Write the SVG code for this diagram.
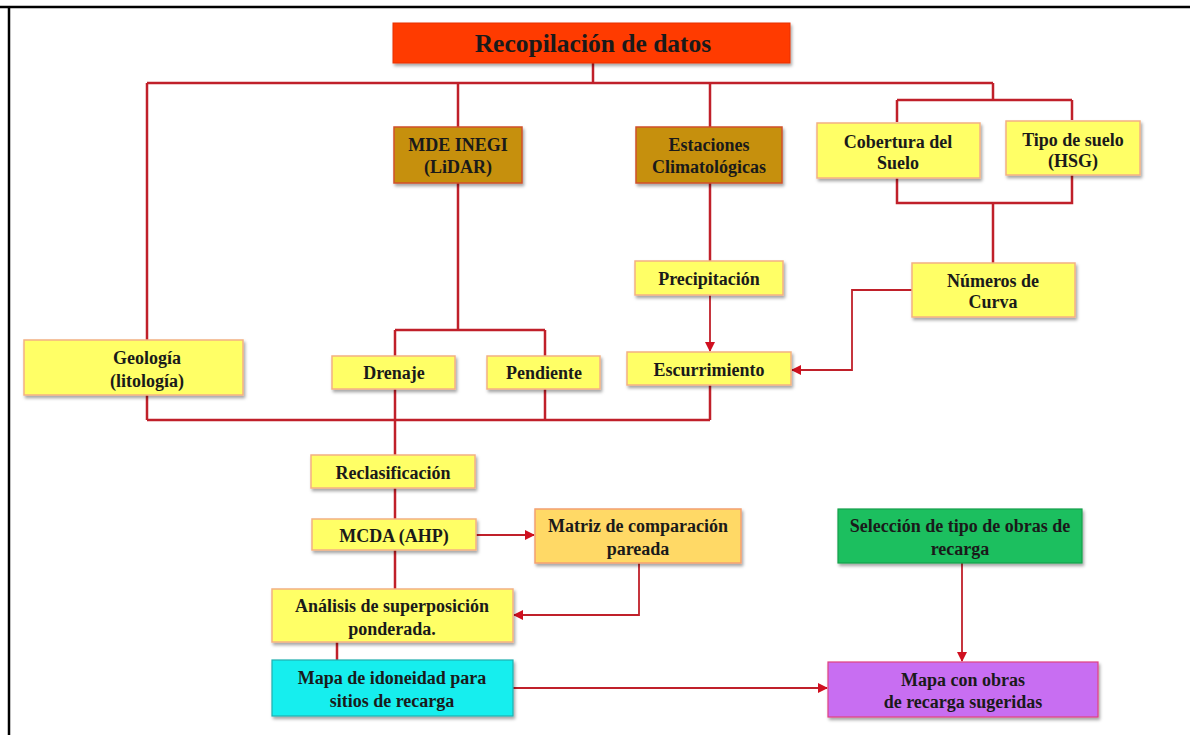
<svg xmlns="http://www.w3.org/2000/svg" width="1190" height="735" viewBox="0 0 1190 735">
<defs>
<style>
.t{font-family:"Liberation Serif","Times New Roman",serif;font-weight:bold;font-size:18px;fill:#1a1a1a;text-anchor:middle}
.y{fill:#FFFF66;stroke:#F4B183;stroke-width:1.5}
.c{fill:none;stroke:#C0202A;stroke-width:2.5}
.a{fill:none;stroke:#C0202A;stroke-width:1.8}
</style>
<filter id="sh" x="-10%" y="-10%" width="130%" height="140%">
<feDropShadow dx="1.5" dy="2.5" stdDeviation="1.5" flood-color="#000" flood-opacity="0.35"/>
</filter>
<marker id="ar" viewBox="0 0 10 10" refX="9" refY="5" markerWidth="10" markerHeight="10" markerUnits="userSpaceOnUse" orient="auto">
<path d="M0,0 L10,5 L0,10 z" fill="#D01020"/>
</marker>
</defs>
<rect width="1190" height="735" fill="#fff"/>
<path d="M0,7 H1190 M9,7 V735" stroke="#000" stroke-width="2.5" fill="none"/>

<g id="connectors">
<path class="c" d="M593,63 V83 M147,83 H993 M147,83 V420 M458,83 V127 M710,83 V127 M993,83 V100 M897,100 H1072 M897,100 V122 M1072,100 V120"/>
<path class="c" d="M897,178 V203 H1072 V175 M993,203 V263"/>
<path class="c" d="M458,183 V330 M395,330 H545 M395,330 V356 M545,330 V356"/>
<path class="c" d="M395,389 V455 M545,389 V420 M147,420 H710 M710,385 V420"/>
<path class="c" d="M710,183 V261"/>
<path class="a" d="M710,295 V351" marker-end="url(#ar)"/>
<path class="a" d="M912,290 H852 V370 H792" marker-end="url(#ar)"/>
<path class="c" d="M395,488 V519 M395,550 V589 M337,642 V660"/>
<path class="a" d="M476,535 H534" marker-end="url(#ar)"/>
<path class="a" d="M639,563 V615 H514" marker-end="url(#ar)"/>
<path class="a" d="M513,688 H827" marker-end="url(#ar)"/>
<path class="a" d="M962,563 V661" marker-end="url(#ar)"/>
</g>

<g id="n-recopilacion"><rect x="393" y="23" width="397" height="40" fill="#FF3A00" stroke="#E83000" filter="url(#sh)"/><text class="t" x="593" y="52" style="font-size:25.5px">Recopilación de datos</text></g>

<g id="n-mde"><rect x="394" y="127" width="128" height="56" fill="#C6900C" stroke="#D0502A" stroke-width="1.5" filter="url(#sh)"/><text class="t" x="458" y="151">MDE INEGI</text><text class="t" x="458" y="173">(LiDAR)</text></g>

<g id="n-estaciones"><rect x="636" y="127" width="146" height="56" fill="#C6900C" stroke="#D0502A" stroke-width="1.5" filter="url(#sh)"/><text class="t" x="709" y="151">Estaciones</text><text class="t" x="709" y="173">Climatológicas</text></g>

<g id="n-cobertura"><rect class="y" x="817" y="123" width="163" height="55" filter="url(#sh)"/><text class="t" x="898" y="148">Cobertura del</text><text class="t" x="898" y="169">Suelo</text></g>

<g id="n-tiposuelo"><rect class="y" x="1006" y="121" width="134" height="54" filter="url(#sh)"/><text class="t" x="1073" y="146">Tipo de suelo</text><text class="t" x="1073" y="167">(HSG)</text></g>

<g id="n-numeros"><rect class="y" x="912" y="263" width="163" height="54" filter="url(#sh)"/><text class="t" x="993" y="287">Números de</text><text class="t" x="993" y="308">Curva</text></g>

<g id="n-precipitacion"><rect class="y" x="635" y="261" width="148" height="34" filter="url(#sh)"/><text class="t" x="709" y="285">Precipitación</text></g>

<g id="n-escurrimiento"><rect class="y" x="627" y="352" width="164" height="33" filter="url(#sh)"/><text class="t" x="709" y="376">Escurrimiento</text></g>

<g id="n-geologia"><rect class="y" x="24" y="340" width="219" height="55" filter="url(#sh)"/><text class="t" x="147" y="364">Geología</text><text class="t" x="147" y="387">(litología)</text></g>

<g id="n-drenaje"><rect class="y" x="332" y="356" width="123" height="33" filter="url(#sh)"/><text class="t" x="394" y="379">Drenaje</text></g>

<g id="n-pendiente"><rect class="y" x="487" y="356" width="113" height="33" filter="url(#sh)"/><text class="t" x="544" y="379">Pendiente</text></g>

<g id="n-reclasificacion"><rect class="y" x="311" y="455" width="164" height="33" filter="url(#sh)"/><text class="t" x="393" y="479">Reclasificación</text></g>

<g id="n-mcda"><rect class="y" x="312" y="519" width="164" height="31" filter="url(#sh)"/><text class="t" x="394" y="542">MCDA (AHP)</text></g>

<g id="n-matriz"><rect x="535" y="509" width="206" height="54" fill="#FFD966" stroke="#F4A070" stroke-width="1.5" filter="url(#sh)"/><text class="t" x="638" y="532">Matriz de comparación</text><text class="t" x="638" y="555">pareada</text></g>

<g id="n-analisis"><rect class="y" x="272" y="589" width="241" height="53" filter="url(#sh)"/><text class="t" x="392" y="612">Análisis de superposición</text><text class="t" x="392" y="635">ponderada.</text></g>

<g id="n-mapa-idoneidad"><rect x="272" y="660" width="241" height="56" fill="#16EEEE" stroke="#20B0B0" stroke-width="1.2" filter="url(#sh)"/><text class="t" x="392" y="684">Mapa de idoneidad para</text><text class="t" x="392" y="707">sitios de recarga</text></g>

<g id="n-seleccion"><rect x="838" y="509" width="244" height="54" fill="#1FBF5F" stroke="#17A04A" stroke-width="1.2" filter="url(#sh)"/><text class="t" x="960" y="532">Selección de tipo de obras de</text><text class="t" x="960" y="555">recarga</text></g>

<g id="n-mapa-obras"><rect x="828" y="662" width="270" height="55" fill="#C86EF2" stroke="#E04080" stroke-width="1.2" filter="url(#sh)"/><text class="t" x="963" y="686">Mapa con obras</text><text class="t" x="963" y="708">de recarga sugeridas</text></g>
</svg>
